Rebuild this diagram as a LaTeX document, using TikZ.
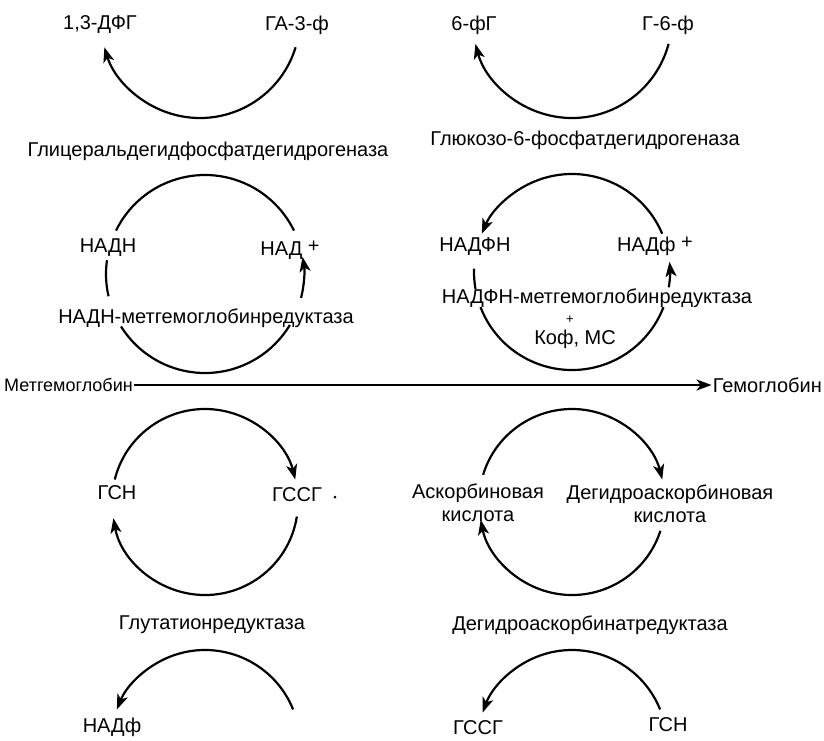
\documentclass[tikz,border=0pt]{standalone}
\usepackage{fontspec}
\setmainfont{Liberation Sans}
\usetikzlibrary{arrows.meta}

\begin{document}
\begin{tikzpicture}[x=1pt, y=1pt, >={Stealth[length=15pt,width=11pt,inset=4pt]},
  every node/.style={font=\fontsize{20}{23}\selectfont, inner sep=1pt},
  cyc/.style={line width=2.2pt}]
  \useasboundingbox (0,0) rectangle (824,-740);
  % centres of the cycles
  \coordinate (cA) at (200,-18);  \coordinate (cB) at (572,-18);
  \coordinate (cC) at (205,-274); \coordinate (cD) at (572,-272);
  \coordinate (cE) at (205,-502); \coordinate (cF) at (572,-502);
  \coordinate (cG) at (205,-745); \coordinate (cH) at (572,-745);
  % Glyceraldehyde phosphate dehydrogenase
  \node (dfg) at (100,-25){1,3-ДФГ};
  \node (ga3f) at (297,-25){ГА-3-ф};
  \draw[cyc,->] ([shift={(-17:100)}]cA) arc[start angle=-17, end angle=-163, radius=100];
  \node (gapdh) at (208,-151){Глицеральдегидфосфатдегидрогеназа};
  % Glucose-6-phosphate dehydrogenase
  \node (fg6) at (474,-25){6-фГ};
  \node (g6f) at (668,-25){Г-6-ф};
  \draw[cyc,->] ([shift={(-15:100)}]cB) arc[start angle=-15, end angle=-165, radius=100];
  \node (g6pdh) at (585,-140){Глюкозо-6-фосфатдегидрогеназа};
  % NADH cycle
  \node (nadh) at (108,-248){НАДН};
  \node (nad) at (290,-250){НАД \raisebox{3pt}{+}};
  \node (nadhred) at (206,-318){НАДН-метгемоглобинредуктаза};
  \draw[cyc] ([shift={(154:99)}]cC) arc[start angle=154, end angle=26, radius=99];
  \draw[cyc] ([shift={(172:99)}]cC) arc[start angle=172, end angle=193, radius=99];
  \draw[cyc,->] ([shift={(-14:99)}]cC) arc[start angle=-14, end angle=10, radius=99];
  \draw[cyc] ([shift={(212:99)}]cC) arc[start angle=212, end angle=329, radius=99];
  % NADPH cycle
  \node (nadph) at (475,-247){НАДФН};
  \node (nadp) at (655,-246){НАДф \raisebox{3pt}{+}};
  \node (nadphred) at (597,-298){НАДФН-метгемоглобинредуктаза};
  \node[font=\fontsize{13}{15}\selectfont] (plus) at (570,-320){+};
  \node (kof) at (575,-339){Коф, МС};
  \draw[cyc,->] ([shift={(23:98)}]cD) arc[start angle=23, end angle=157, radius=98];
  \draw[cyc] ([shift={(178:98)}]cD) arc[start angle=178, end angle=190, radius=98];
  \draw[cyc,->] ([shift={(-9:98)}]cD) arc[start angle=-9, end angle=6, radius=98];
  \draw[cyc] ([shift={(201:98)}]cD) arc[start angle=201, end angle=339, radius=98];
  % methemoglobin -> hemoglobin
  \node[anchor=west, font=\fontsize{18}{21}\selectfont] (methb) at (3,-385){Метгемоглобин};
  \node[anchor=east] (hb) at (823,-385){Гемоглобин};
  \draw[cyc,->] (methb) -- (hb);
  % glutathione cycle
  \node (gsh) at (117,-493){ГСН};
  \node (gssg) at (297,-495){ГССГ};
  \fill (335,-497) circle (1.5);
  \draw[cyc,->] ([shift={(166:93)}]cE) arc[start angle=166, end angle=14, radius=93];
  \draw[cyc,->] ([shift={(-9:93)}]cE) arc[start angle=-9, end angle=-170, radius=93];
  % ascorbate cycle
  \node[align=center] (asc) at (478,-503){Аскорбиновая\\кислота};
  \node[align=center] (dasc) at (670,-504){Дегидроаскорбиновая\\кислота};
  \draw[cyc,->] ([shift={(163:93)}]cF) arc[start angle=163, end angle=14, radius=93];
  \draw[cyc,->] ([shift={(-18:93)}]cF) arc[start angle=-18, end angle=-169, radius=93];
  % reductases
  \node (gr) at (212,-625){Глутатионредуктаза};
  \node (dhar) at (590,-625){Дегидроаскорбинатредуктаза};
  \draw[cyc,->] ([shift={(22:95)}]cG) arc[start angle=22, end angle=158, radius=95];
  \node (nadpb) at (112,-727){НАДф};
  \draw[cyc,->] ([shift={(22:95)}]cH) arc[start angle=22, end angle=160, radius=95];
  \node (gssgb) at (478,-728){ГССГ};
  \node (gshb) at (668,-725){ГСН};
\end{tikzpicture}
\end{document}
